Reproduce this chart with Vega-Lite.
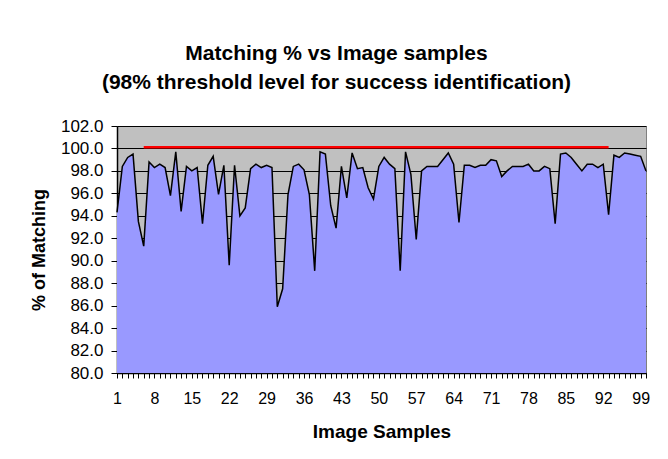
{
  "$schema": "https://vega.github.io/schema/vega-lite/v6.json",
  "width": 529,
  "height": 247,
  "autosize": {"type": "none"},
  "padding": {"left": 117, "top": 126, "right": 22, "bottom": 86},
  "background": "white",
  "title": {
    "text": ["Matching % vs Image samples", "(98% threshold level for success identification)"],
    "font": "Liberation Sans",
    "fontSize": 21,
    "fontWeight": "bold",
    "color": "black",
    "lineHeight": 29,
    "anchor": "middle",
    "dx": -45,
    "offset": 24
  },
  "config": {
    "view": {"fill": "#C0C0C0", "stroke": "#808080", "strokeWidth": 1},
    "axis": {"labelFont": "Liberation Sans", "titleFont": "Liberation Sans", "labelColor": "black", "titleColor": "black", "domainColor": "black", "tickColor": "black"}
  },
  "datasets": {
    "matching": [
      {"sample": 1, "pct": 94.3}, {"sample": 2, "pct": 98.4}, {"sample": 3, "pct": 99.2}, {"sample": 4, "pct": 99.5},
      {"sample": 5, "pct": 93.5}, {"sample": 6, "pct": 91.3}, {"sample": 7, "pct": 98.8}, {"sample": 8, "pct": 98.3},
      {"sample": 9, "pct": 98.6}, {"sample": 10, "pct": 98.3}, {"sample": 11, "pct": 95.8}, {"sample": 12, "pct": 99.7},
      {"sample": 13, "pct": 94.4}, {"sample": 14, "pct": 98.4}, {"sample": 15, "pct": 98.0}, {"sample": 16, "pct": 98.3},
      {"sample": 17, "pct": 93.3}, {"sample": 18, "pct": 98.5}, {"sample": 19, "pct": 99.3}, {"sample": 20, "pct": 95.9},
      {"sample": 21, "pct": 98.5}, {"sample": 22, "pct": 89.6}, {"sample": 23, "pct": 98.5}, {"sample": 24, "pct": 94.0},
      {"sample": 25, "pct": 94.7}, {"sample": 26, "pct": 98.2}, {"sample": 27, "pct": 98.6}, {"sample": 28, "pct": 98.3},
      {"sample": 29, "pct": 98.5}, {"sample": 30, "pct": 98.3}, {"sample": 31, "pct": 85.9}, {"sample": 32, "pct": 87.5},
      {"sample": 33, "pct": 95.9}, {"sample": 34, "pct": 98.4}, {"sample": 35, "pct": 98.6}, {"sample": 36, "pct": 98.1},
      {"sample": 37, "pct": 95.9}, {"sample": 38, "pct": 89.1}, {"sample": 39, "pct": 99.7}, {"sample": 40, "pct": 99.5},
      {"sample": 41, "pct": 94.9}, {"sample": 42, "pct": 92.9}, {"sample": 43, "pct": 98.4}, {"sample": 44, "pct": 95.6},
      {"sample": 45, "pct": 99.6}, {"sample": 46, "pct": 98.2}, {"sample": 47, "pct": 98.3}, {"sample": 48, "pct": 96.5},
      {"sample": 49, "pct": 95.5}, {"sample": 50, "pct": 98.4}, {"sample": 51, "pct": 99.2}, {"sample": 52, "pct": 98.6},
      {"sample": 53, "pct": 98.2}, {"sample": 54, "pct": 89.1}, {"sample": 55, "pct": 99.7}, {"sample": 56, "pct": 97.7},
      {"sample": 57, "pct": 91.9}, {"sample": 58, "pct": 98.0}, {"sample": 59, "pct": 98.4}, {"sample": 60, "pct": 98.4},
      {"sample": 61, "pct": 98.4}, {"sample": 62, "pct": 99.0}, {"sample": 63, "pct": 99.6}, {"sample": 64, "pct": 98.6},
      {"sample": 65, "pct": 93.4}, {"sample": 66, "pct": 98.5}, {"sample": 67, "pct": 98.5}, {"sample": 68, "pct": 98.3},
      {"sample": 69, "pct": 98.5}, {"sample": 70, "pct": 98.5}, {"sample": 71, "pct": 99.0}, {"sample": 72, "pct": 98.9},
      {"sample": 73, "pct": 97.5}, {"sample": 74, "pct": 98.0}, {"sample": 75, "pct": 98.4}, {"sample": 76, "pct": 98.4},
      {"sample": 77, "pct": 98.4}, {"sample": 78, "pct": 98.6}, {"sample": 79, "pct": 98.0}, {"sample": 80, "pct": 98.0},
      {"sample": 81, "pct": 98.4}, {"sample": 82, "pct": 98.2}, {"sample": 83, "pct": 93.3}, {"sample": 84, "pct": 99.5},
      {"sample": 85, "pct": 99.6}, {"sample": 86, "pct": 99.2}, {"sample": 87, "pct": 98.6}, {"sample": 88, "pct": 98.0},
      {"sample": 89, "pct": 98.6}, {"sample": 90, "pct": 98.6}, {"sample": 91, "pct": 98.3}, {"sample": 92, "pct": 98.6},
      {"sample": 93, "pct": 94.1}, {"sample": 94, "pct": 99.4}, {"sample": 95, "pct": 99.2}, {"sample": 96, "pct": 99.6},
      {"sample": 97, "pct": 99.5}, {"sample": 98, "pct": 99.4}, {"sample": 99, "pct": 99.3}, {"sample": 100, "pct": 98.0}
    ],
    "threshold": [
      {"sample": 6, "pct": 100.1},
      {"sample": 93, "pct": 100.1}
    ]
  },
  "encoding": {
    "x": {
      "field": "sample", "type": "quantitative",
      "scale": {"domain": [1, 100], "nice": false, "zero": false},
      "axis": {
        "title": "Image Samples",
        "titleFontSize": 19, "titleFontWeight": "bold", "titlePadding": 16,
        "values": [1,2,3,4,5,6,7,8,9,10,11,12,13,14,15,16,17,18,19,20,21,22,23,24,25,26,27,28,29,30,31,32,33,34,35,36,37,38,39,40,41,42,43,44,45,46,47,48,49,50,51,52,53,54,55,56,57,58,59,60,61,62,63,64,65,66,67,68,69,70,71,72,73,74,75,76,77,78,79,80,81,82,83,84,85,86,87,88,89,90,91,92,93,94,95,96,97,98,99,100],
        "labelExpr": "(datum.value - 1) % 7 === 0 ? datum.label : ''",
        "labelFontSize": 16, "labelPadding": 12, "labelOverlap": false, "labelFlush": false,
        "tickSize": 5, "grid": false, "domainWidth": 1.5
      }
    },
    "y": {
      "field": "pct", "type": "quantitative",
      "scale": {"domain": [80, 102], "nice": false, "zero": false},
      "axis": {
        "title": "% of Matching",
        "titleFontSize": 18, "titleFontWeight": "bold", "titlePadding": 12,
        "values": [80, 82, 84, 86, 88, 90, 92, 94, 96, 98, 100, 102],
        "format": ".1f",
        "labelFontSize": 17, "labelPadding": 8, "labelOverlap": false, "labelFlush": false,
        "tickSize": 6, "grid": true, "gridColor": "black", "gridWidth": 1, "gridOpacity": 1,
        "domainWidth": 1.5
      }
    }
  },
  "layer": [
    {
      "data": {"name": "matching"},
      "mark": {"type": "area", "color": "#9999FF", "opacity": 1, "line": {"color": "black", "strokeWidth": 1.5}},
      "encoding": {
        "y2": {"datum": 80}
      }
    },
    {
      "data": {"name": "threshold"},
      "mark": {"type": "line", "color": "#FF0000", "strokeWidth": 2.5},
      "encoding": {}
    }
  ]
}
